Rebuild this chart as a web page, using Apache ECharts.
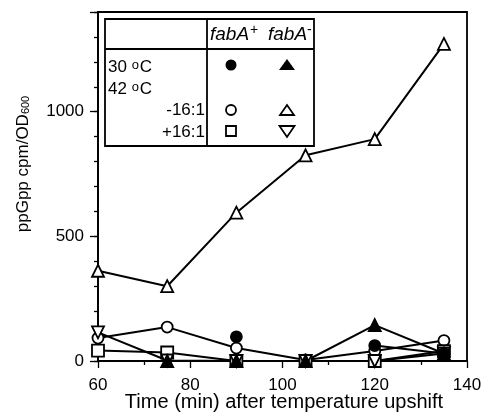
<!DOCTYPE html>
<html>
<head>
<meta charset="utf-8">
<script src="https://cdn.jsdelivr.net/npm/echarts@6/dist/echarts.min.js"></script>
<style>
  html, body { margin: 0; padding: 0; background: #fff; }
  #main { width: 483px; height: 415px; }
</style>
</head>
<body>
<div id="main"></div>
<script>
// time points (min after upshift)
var times = [60, 75, 90, 105, 120, 135];
// fabA+ / fabA- at 30 C, 42 C -16:1, 42 C +16:1
var plus30 = [null, null, 97, null, 62, 30];
var minus30 = [null, 0, 0, 0, 144, 30];
var plusNo16 = [92, 136, 52, 4, 40, 82];
var minusNo16 = [362, 300, 595, 825, 890, 1272];
var plusWith16 = [42, 34, 0, 0, 0, 40];
var minusWith16 = [115, 2, 0, 0, 0, 30];

var xTicks = [60, 80, 100, 120, 140];
var yTicks = [0, 500, 1000];

var font = 'Liberation Sans, Arial, sans-serif';
var chart = echarts.init(document.getElementById('main'));

function pairs(vals) {
  return times.map(function (t, i) { return [t, vals[i]]; });
}
function mkSeries(vals, symbol, filled, rotate) {
  return {
    type: 'line',
    data: pairs(vals),
    symbol: symbol,
    symbolSize: symbol === 'circle' ? 11 : 12,
    symbolRotate: rotate || 0,
    connectNulls: false,
    lineStyle: { color: '#000', width: 2 },
    itemStyle: { color: filled ? '#000' : '#fff', borderColor: '#000', borderWidth: 1.8 },
    animation: false,
    z: 3
  };
}

// legend table drawing
var tx = 105, ty = 19, tw = 209, th = 127;
var col1 = 207, hdr = 49;
var symA = 231, symB = 287;
var lw = 1.8;
var tbl = [
  { type: 'rect', shape: { x: tx, y: ty, width: tw, height: th }, style: { fill: '#fff', stroke: '#000', lineWidth: lw }, z: 10 },
  { type: 'line', shape: { x1: tx, y1: hdr, x2: tx + tw, y2: hdr }, style: { stroke: '#000', lineWidth: lw }, z: 11 },
  { type: 'line', shape: { x1: col1, y1: ty, x2: col1, y2: ty + th }, style: { stroke: '#000', lineWidth: lw }, z: 11 },
  { type: 'text', x: 210, y: 35, z: 11, style: { text: '{i|fabA}{s|+}', verticalAlign: 'middle',
      rich: { i: { fontSize: 19, fontStyle: 'italic', fontFamily: font, fill: '#000' },
              s: { fontSize: 14, fontFamily: font, fill: '#000', padding: [0, 0, 9, 1] } } } },
  { type: 'text', x: 268, y: 35, z: 11, style: { text: '{i|fabA}{s|-}', verticalAlign: 'middle',
      rich: { i: { fontSize: 19, fontStyle: 'italic', fontFamily: font, fill: '#000' },
              s: { fontSize: 14, fontFamily: font, fill: '#000', padding: [0, 0, 9, 0] } } } },
  { type: 'text', x: 108, y: 67, z: 11, style: { text: '30 {o|o}C', verticalAlign: 'middle', font: '17px ' + font, fill: '#000',
      rich: { o: { fontSize: 13, fontFamily: font, fill: '#000', padding: [0, 1, 4, 0] } } } },
  { type: 'text', x: 108, y: 89, z: 11, style: { text: '42 {o|o}C', verticalAlign: 'middle', font: '17px ' + font, fill: '#000',
      rich: { o: { fontSize: 13, fontFamily: font, fill: '#000', padding: [0, 1, 4, 0] } } } },
  { type: 'text', x: 205, y: 110, z: 11, style: { text: '-16:1', align: 'right', verticalAlign: 'middle', font: '17px ' + font, fill: '#000' } },
  { type: 'text', x: 205, y: 132, z: 11, style: { text: '+16:1', align: 'right', verticalAlign: 'middle', font: '17px ' + font, fill: '#000' } },
  { type: 'circle', shape: { cx: symA, cy: 65, r: 5.5 }, style: { fill: '#000' }, z: 11 },
  { type: 'polygon', shape: { points: [[symB - 8, 70], [symB + 8, 70], [symB, 59]] }, style: { fill: '#000' }, z: 11 },
  { type: 'circle', shape: { cx: symA, cy: 110, r: 5 }, style: { fill: '#fff', stroke: '#000', lineWidth: lw }, z: 11 },
  { type: 'polygon', shape: { points: [[symB - 7, 115], [symB + 7, 115], [symB, 105]] }, style: { fill: '#fff', stroke: '#000', lineWidth: lw }, z: 11 },
  { type: 'rect', shape: { x: symA - 5, y: 126, width: 10, height: 10 }, style: { fill: '#fff', stroke: '#000', lineWidth: lw }, z: 11 },
  { type: 'polygon', shape: { points: [[symB - 7.5, 126], [symB + 7.5, 126], [symB, 137]] }, style: { fill: '#fff', stroke: '#000', lineWidth: lw }, z: 11 },
  // axis titles
  { type: 'text', x: 23, y: 164, rotation: Math.PI / 2, z: 11,
    style: { text: '{a|ppGpp cpm/OD}{s|600}', align: 'center', verticalAlign: 'middle',
      rich: { a: { fontSize: 17, fontFamily: font, fill: '#000' },
              s: { fontSize: 11, fontFamily: font, fill: '#000', padding: [6, 0, 0, 0] } } } },
  { type: 'text', x: 284, y: 402, z: 11,
    style: { text: 'Time (min) after temperature upshift', align: 'center', verticalAlign: 'middle',
      font: '20px ' + font, fill: '#000' } }
];

var option = {
  backgroundColor: '#fff',
  animation: false,
  grid: { left: 98, right: 16, top: 12, bottom: 54, containLabel: false, outerBoundsMode: 'none',
          show: true, borderColor: '#000', borderWidth: 1.8, backgroundColor: 'transparent' },
  graphic: tbl,
  xAxis: {
    type: 'value', min: xTicks[0], max: xTicks[xTicks.length - 1], interval: 20,
    axisLine: { lineStyle: { color: '#000', width: 1.8 } },
    axisTick: { show: true, inside: false, length: 7, lineStyle: { color: '#000', width: 1.3 } },
    minorTick: { show: true, splitNumber: 2, length: 4, lineStyle: { color: '#000', width: 1.3 } },
    axisLabel: { fontSize: 17, fontFamily: font, color: '#000', margin: 16 },
    splitLine: { show: false }
  },
  yAxis: [{
    type: 'value', min: 0, max: 1400, interval: 500,
    axisLine: { show: true, lineStyle: { color: '#000', width: 1.8 } },
    axisTick: { show: true, inside: false, length: 8, lineStyle: { color: '#000', width: 1.3 } },
    axisLabel: { fontSize: 17, fontFamily: font, color: '#000', margin: 14,
      formatter: function (v) { return yTicks.indexOf(v) >= 0 ? String(v) : ''; } },
    splitLine: { show: false }
  }, {
    type: 'value', min: 0, max: 1400, interval: 100, position: 'left',
    axisLine: { show: false },
    axisTick: { show: true, inside: false, length: 4, lineStyle: { color: '#000', width: 1.3 } },
    axisLabel: { show: false },
    splitLine: { show: false }
  }],
  series: [
    mkSeries(minusNo16, 'triangle', false),
    mkSeries(plusNo16, 'circle', false),
    mkSeries(plusWith16, 'rect', false),
    mkSeries(minusWith16, 'triangle', false, 180),
    mkSeries(minus30, 'triangle', true),
    mkSeries(plus30, 'circle', true)
  ]
};
chart.setOption(option);
</script>
</body>
</html>
